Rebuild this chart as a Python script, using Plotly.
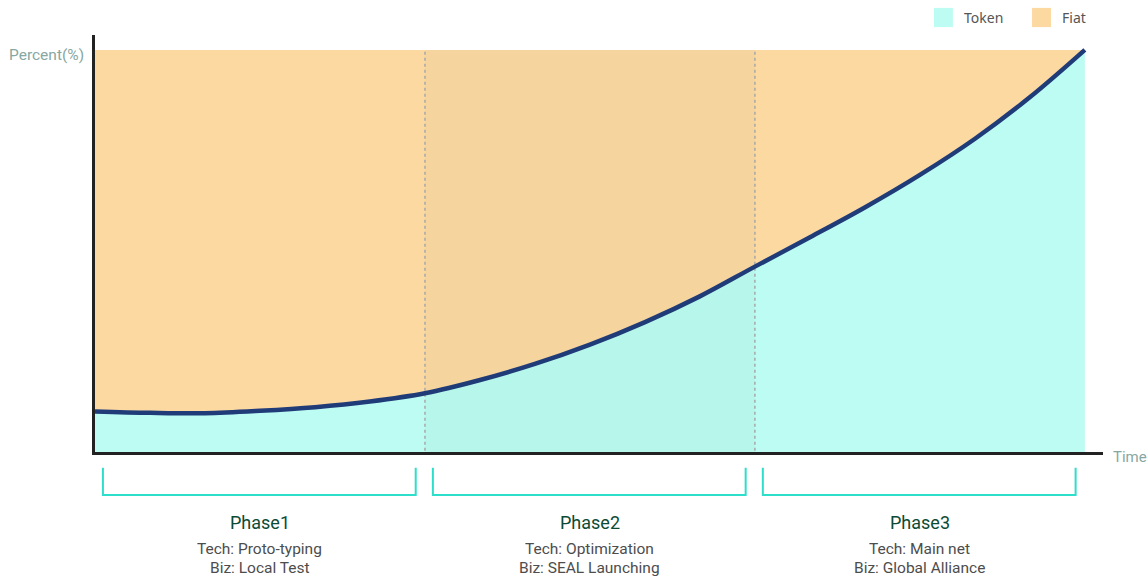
import plotly.graph_objects as go

# ---- data ----
time_x = [0, 0.167, 0.333, 0.5, 0.667, 0.833, 1.0, 1.167, 1.333, 1.5, 1.667, 1.833,
          2.0, 2.167, 2.333, 2.5, 2.667, 2.833, 3.0]
token_pct = [10.1, 9.75, 9.65, 10.25, 11.15, 12.55, 14.6, 17.9, 21.9, 26.7, 32.3, 38.7,
             46.1, 53.4, 60.8, 68.9, 77.9, 88.2, 100.0]
total_pct = [100.0] * len(time_x)

phase_names = ["Phase1", "Phase2", "Phase3"]
phase_tech = ["Tech: Proto-typing", "Tech: Optimization", "Tech: Main net"]
phase_biz = ["Biz: Local Test", "Biz: SEAL Launching", "Biz: Global Alliance"]
phase_bounds = [0, 1, 2, 3]
highlight_phase = 1

legend_names = ["Token", "Fiat"]

TOKEN = "#bdfcf2"
FIAT = "#fdd9a2"
LINE = "#1f3c78"
BRACKET = "#2ddfca"

fig = go.Figure()

fig.add_trace(go.Scatter(x=time_x, y=token_pct, mode="lines", line=dict(width=0, shape="spline"),
                         fill="tozeroy", fillcolor=TOKEN, hoverinfo="skip", showlegend=False))
fig.add_trace(go.Scatter(x=time_x, y=total_pct, mode="lines", line=dict(width=0, shape="spline"),
                         fill="tonexty", fillcolor=FIAT, hoverinfo="skip", showlegend=False))
# darker band for middle phase
h0, h1 = phase_bounds[highlight_phase], phase_bounds[highlight_phase + 1]
fig.add_trace(go.Scatter(x=[h0, h1], y=[100, 100], mode="lines", line=dict(width=0),
                         fill="tozeroy", fillcolor="rgba(60,110,60,0.04)", hoverinfo="skip",
                         showlegend=False))
# dotted phase separators
for b in phase_bounds[1:-1]:
    fig.add_trace(go.Scatter(x=[b, b], y=[-1.2, 100], mode="lines",
                             line=dict(color="#a8a8a8", width=1.5, dash="dot"),
                             hoverinfo="skip", showlegend=False, cliponaxis=False))
fig.add_trace(go.Scatter(x=time_x, y=token_pct, mode="lines",
                         line=dict(color=LINE, width=4.5, shape="spline"),
                         showlegend=False, cliponaxis=False))

# brackets and phase labels
shapes = []
annotations = []
for i, name in enumerate(phase_names):
    a = phase_bounds[i] + 0.024
    b = phase_bounds[i + 1] - 0.028
    shapes.append(dict(type="path", xref="x", yref="paper",
                       path=f"M {a},-0.038 L {a},-0.103 L {b},-0.103 L {b},-0.038",
                       line=dict(color=BRACKET, width=2)))
    c = (phase_bounds[i] + phase_bounds[i + 1]) / 2
    common = dict(x=c, xref="x", yref="paper", showarrow=False,
                  xanchor="center", yanchor="middle")
    annotations.append(dict(y=-0.170, text=name,
                            font=dict(family="Roboto", size=18, color="#0c4a35"), **common))
    annotations.append(dict(y=-0.233, text=phase_tech[i],
                            font=dict(family="Roboto", size=15.5, color="#4d4d4d"), **common))
    annotations.append(dict(y=-0.279, text=phase_biz[i],
                            font=dict(family="Roboto", size=15.5, color="#4d4d4d"), **common))

annotations.append(dict(x=-0.009, y=0.952, xref="paper", yref="paper", text="Percent(%)",
                        xanchor="right", yanchor="middle", showarrow=False,
                        font=dict(family="Roboto", size=15.5, color="#88a7a2")))
annotations.append(dict(x=1.008, y=-0.012, xref="paper", yref="paper", text="Time",
                        xanchor="left", yanchor="middle", showarrow=False,
                        font=dict(family="Roboto", size=15, color="#88a7a2")))

# manual legend
leg_colors = [TOKEN, FIAT]
leg_x = [0.8323, 0.9296]
for name, col, lx in zip(legend_names, leg_colors, leg_x):
    shapes.append(dict(type="rect", xref="paper", yref="paper", x0=lx, x1=lx + 0.0188,
                       y0=1.019, y1=1.065, line=dict(width=0), fillcolor=col))
    annotations.append(dict(x=lx + 0.0278, y=1.042, xref="paper", yref="paper", text=name,
                            xanchor="left", yanchor="middle", showarrow=False,
                            font=dict(family="Noto Sans", size=14, color="#555555")))

fig.update_layout(
    width=1148, height=578,
    margin=dict(l=95, r=45, t=35, b=126),
    plot_bgcolor="white", paper_bgcolor="white",
    shapes=shapes, annotations=annotations,
    showlegend=False,
    xaxis=dict(range=[0, 3.055], showgrid=False, zeroline=False, showticklabels=False,
               ticks="", showline=True, linecolor="#222222", linewidth=2.5),
    yaxis=dict(range=[0, 103.7], showgrid=False, zeroline=False, showticklabels=False,
               ticks="", showline=True, linecolor="#222222", linewidth=2.5),
)

fig.write_html("out.html", config={"displayModeBar": False},
               post_script="document.body.style.margin='0';document.body.style.overflow='hidden';")
